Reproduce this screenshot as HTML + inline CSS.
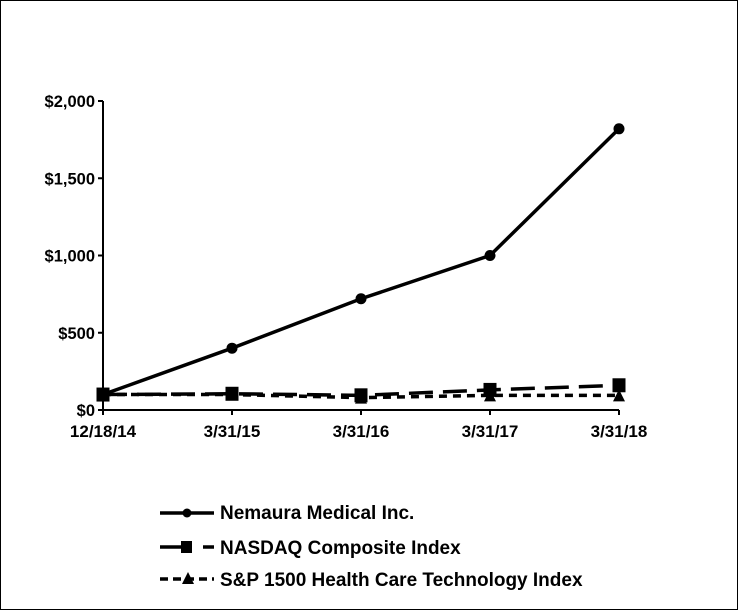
<!DOCTYPE html>
<html><head><meta charset="utf-8"><style>
body{margin:0;background:#fff}
svg{display:block;font-family:"Liberation Sans",Arial,sans-serif;font-weight:bold}
</style></head><body>
<svg id="chart" width="738" height="610">
<rect x="0.5" y="0.5" width="737" height="609" fill="#fff" stroke="#000"/>
<g id="axes"></g><g id="series"></g>
<g font-size="19">
 <g>
  <line x1="160" y1="513" x2="214" y2="513" stroke="#000" stroke-width="3.5"/>
  <circle cx="187" cy="513" r="4.5" fill="#000"/>
  <text x="220" y="519">Nemaura Medical Inc.</text></g>
 <g>
  <line x1="160" y1="547" x2="190" y2="547" stroke="#000" stroke-width="3.5"/>
  <line x1="203" y1="547" x2="214" y2="547" stroke="#000" stroke-width="3.5"/>
  <rect x="181" y="541" width="11" height="12" fill="#000"/>
  <text x="220" y="554">NASDAQ Composite Index</text></g>
 <g>
  <line x1="160" y1="579" x2="214" y2="579" stroke="#000" stroke-width="3.5" stroke-dasharray="8,5"/>
  <polygon points="188,572 194,584 182,584" fill="#000"/>
  <text x="220" y="586">S&amp;P 1500 Health Care Technology Index</text></g>
</g>
</svg>
<script>
const categories=["12/18/14","3/31/15","3/31/16","3/31/17","3/31/18"];
const nemaura=[100,400,720,1000,1820];
const nasdaq=[100,105,95,130,160];
const sp1500=[100,100,80,95,95];
const yTicks=[0,500,1000,1500,2000];
const yTickLabels=["$0","$500","$1,000","$1,500","$2,000"];
const NS="http://www.w3.org/2000/svg";
const x0=103,x1=619,yBase=410,yTop=101,yMax=2000;
const xs=i=>x0+i*(x1-x0)/(categories.length-1);
const ys=v=>yBase-v*(yBase-yTop)/yMax;
function mk(t,a,p){const e=document.createElementNS(NS,t);for(const k in a)e.setAttribute(k,a[k]);p.appendChild(e);return e;}
const ax=document.getElementById('axes');
let yl=mk('line',{x1:x0,y1:yTop,x2:x0,y2:yBase,stroke:'#000','stroke-width':2},ax);


let xl=mk('line',{x1:x0,y1:yBase,x2:x1,y2:yBase,stroke:'#000','stroke-width':2},ax);


yTicks.forEach((v,i)=>{
 mk('line',{x1:x0-5,y1:ys(v),x2:x0,y2:ys(v),stroke:'#000','stroke-width':2},ax);
 const t=mk('text',{x:x0-8,y:ys(v)+6,'text-anchor':'end','font-size':16.5},ax);
 t.textContent=yTickLabels[i];
 
 
});
categories.forEach((c,i)=>{
 mk('line',{x1:xs(i),y1:yBase,x2:xs(i),y2:yBase+5,stroke:'#000','stroke-width':2},ax);
 const t=mk('text',{x:xs(i),y:yBase+27,'text-anchor':'middle','font-size':17},ax);
 t.textContent=c;
 
 
});
const sg=document.getElementById('series');
function series(data,name,dash,marker){
 const g=mk('g',{},sg);
 
 
 const a={points:data.map((v,i)=>xs(i)+','+ys(v)).join(' '),fill:'none',stroke:'#000','stroke-width':3.5};
 if(dash)a['stroke-dasharray']=dash;
 mk('polyline',a,g);
 data.forEach((v,i)=>{const x=xs(i),y=ys(v);let m;
  if(marker==='circle')m=mk('circle',{cx:x,cy:y,r:5.5,fill:'#000'},g);
  else if(marker==='square')m=mk('rect',{x:x-6.5,y:y-7,width:13,height:14,fill:'#000'},g);
  else m=mk('polygon',{points:`${x},${y-6} ${x+6},${y+6} ${x-6},${y+6}`,fill:'#000'},g);
  
  
 });
}
series(sp1500,'sp1500-series','8,6','triangle');
series(nasdaq,'nasdaq-series','24,10','square');
series(nemaura,'nemaura-series',null,'circle');
</script>
</body></html>
